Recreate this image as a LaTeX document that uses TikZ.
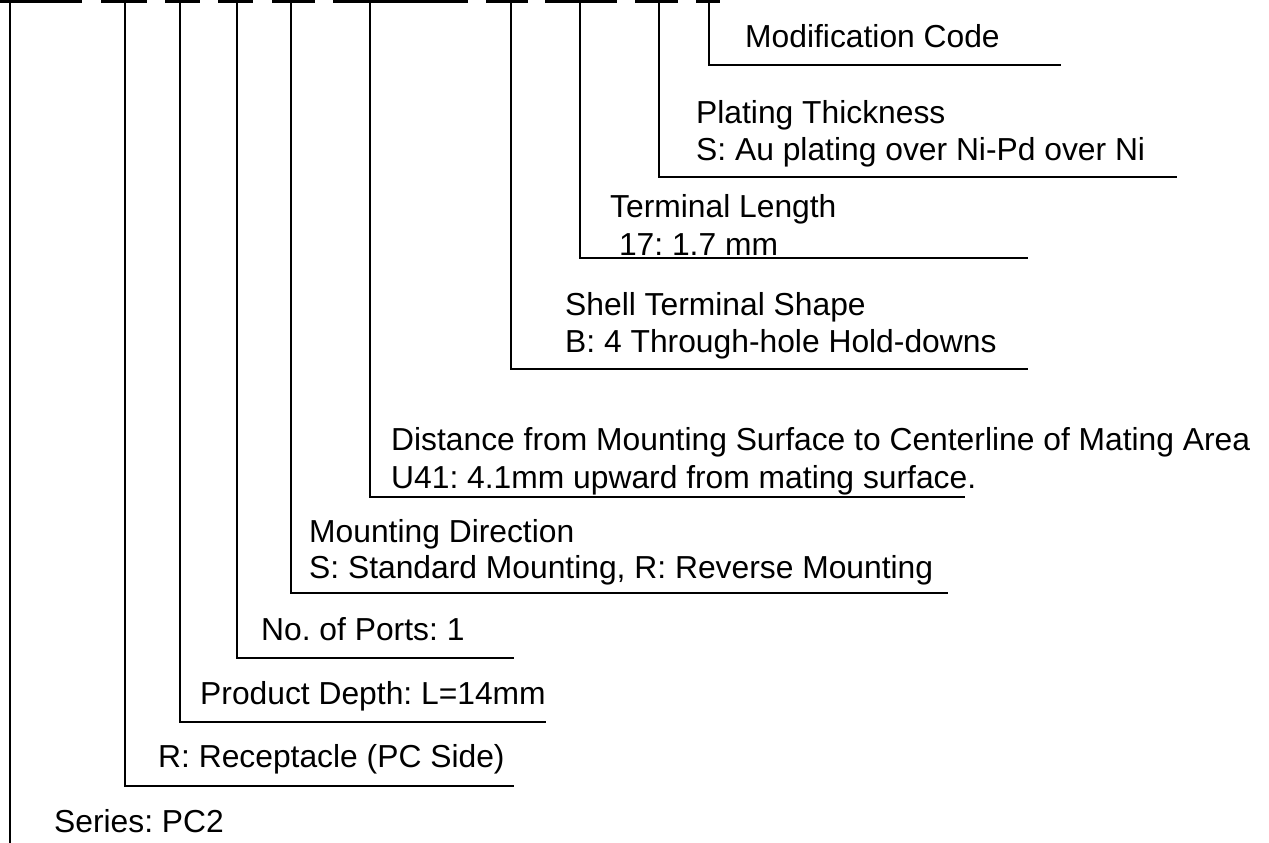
\documentclass[tikz,border=0pt]{standalone}
\usepackage{fontspec}
\setmainfont{Liberation Sans}
\usepackage{tikz}
\usetikzlibrary{positioning}
\frenchspacing

\begin{document}
\begin{tikzpicture}[x=1pt, y=-1pt,
    bar/.style={line width=3.5pt},
    lead/.style={line width=1.3pt},
    lbl/.style={anchor=base west, inner sep=0pt,
                font=\fontsize{31.8}{37}\selectfont}]
  \useasboundingbox (0,0) rectangle (1269,843);
  % part-number boxes along the top edge
  \draw[bar] (0,1.75) -- (82,1.75);
  \draw[bar] (101,1.75) -- (147,1.75);
  \draw[bar] (165,1.75) -- (200,1.75);
  \draw[bar] (218,1.75) -- (253,1.75);
  \draw[bar] (272,1.75) -- (315,1.75);
  \draw[bar] (333,1.75) -- (468,1.75);
  \draw[bar] (486,1.75) -- (528,1.75);
  \draw[bar] (545,1.75) -- (617,1.75);
  \draw[bar] (635,1.75) -- (678,1.75);
  \draw[bar] (696,1.75) -- (720,1.75);
  % leader corners and ends
  \coordinate (ser-t) at (10,3);   \coordinate (ser-b) at (10,843);
  \coordinate (rec-t) at (125,3);  \coordinate (rec-c) at (125,786); \coordinate (rec-e) at (514,786);
  \coordinate (dep-t) at (180,3);  \coordinate (dep-c) at (180,722); \coordinate (dep-e) at (546,722);
  \coordinate (prt-t) at (237,3);  \coordinate (prt-c) at (237,658); \coordinate (prt-e) at (514,658);
  \coordinate (mnt-t) at (291,3);  \coordinate (mnt-c) at (291,593); \coordinate (mnt-e) at (948,593);
  \coordinate (dst-t) at (370,3);  \coordinate (dst-c) at (370,497); \coordinate (dst-e) at (965,497);
  \coordinate (shl-t) at (511,3);  \coordinate (shl-c) at (511,369); \coordinate (shl-e) at (1028,369);
  \coordinate (trm-t) at (580,3);  \coordinate (trm-c) at (580,258); \coordinate (trm-e) at (1028,258);
  \coordinate (plt-t) at (659,3);  \coordinate (plt-c) at (659,177); \coordinate (plt-e) at (1177,177);
  \coordinate (mod-t) at (709,3);  \coordinate (mod-c) at (709,65);  \coordinate (mod-e) at (1061,65);
  % leaders
  \draw[lead] (ser-t) -- (ser-b);
  \draw[lead] (rec-t) -- (rec-c) -- (rec-e);
  \draw[lead] (dep-t) -- (dep-c) -- (dep-e);
  \draw[lead] (prt-t) -- (prt-c) -- (prt-e);
  \draw[lead] (mnt-t) -- (mnt-c) -- (mnt-e);
  \draw[lead] (dst-t) -- (dst-c) -- (dst-e);
  \draw[lead] (shl-t) -- (shl-c) -- (shl-e);
  \draw[lead] (trm-t) -- (trm-c) -- (trm-e);
  \draw[lead] (plt-t) -- (plt-c) -- (plt-e);
  \draw[lead] (mod-t) -- (mod-c) -- (mod-e);
  % labels
  \node[lbl] (mod)  at (745,48)  {Modification Code};
  \node[lbl] (plt)  at (696,123) {Plating Thickness};
  \node[lbl] (plt2) at (696,160) {S: Au plating over Ni-Pd over Ni};
  \node[lbl] (trm)  at (610,217) {Terminal Length};
  \node[lbl] (trm2) at (610,255) {\ 17: 1.7 mm};
  \node[lbl] (shl)  at (565,315) {Shell Terminal Shape};
  \node[lbl] (shl2) at (565,352) {B: 4 Through-hole Hold-downs};
  \node[lbl] (dst)  at (391,450) {Distance from Mounting Surface to Centerline of Mating Area};
  \node[lbl] (dst2) at (391,488) {U41: 4.1mm upward from mating surface.};
  \node[lbl] (mnt)  at (309,542) {Mounting Direction};
  \node[lbl] (mnt2) at (309,578) {S: Standard Mounting, R: Reverse Mounting};
  \node[lbl] (prt)  at (261,640) {No. of Ports: 1};
  \node[lbl] (dep)  at (200,704) {Product Depth: L=14mm};
  \node[lbl] (rec)  at (158,767) {R: Receptacle (PC Side)};
  \node[lbl] (ser)  at (54,832)  {Series: PC2};
\end{tikzpicture}
\end{document}
